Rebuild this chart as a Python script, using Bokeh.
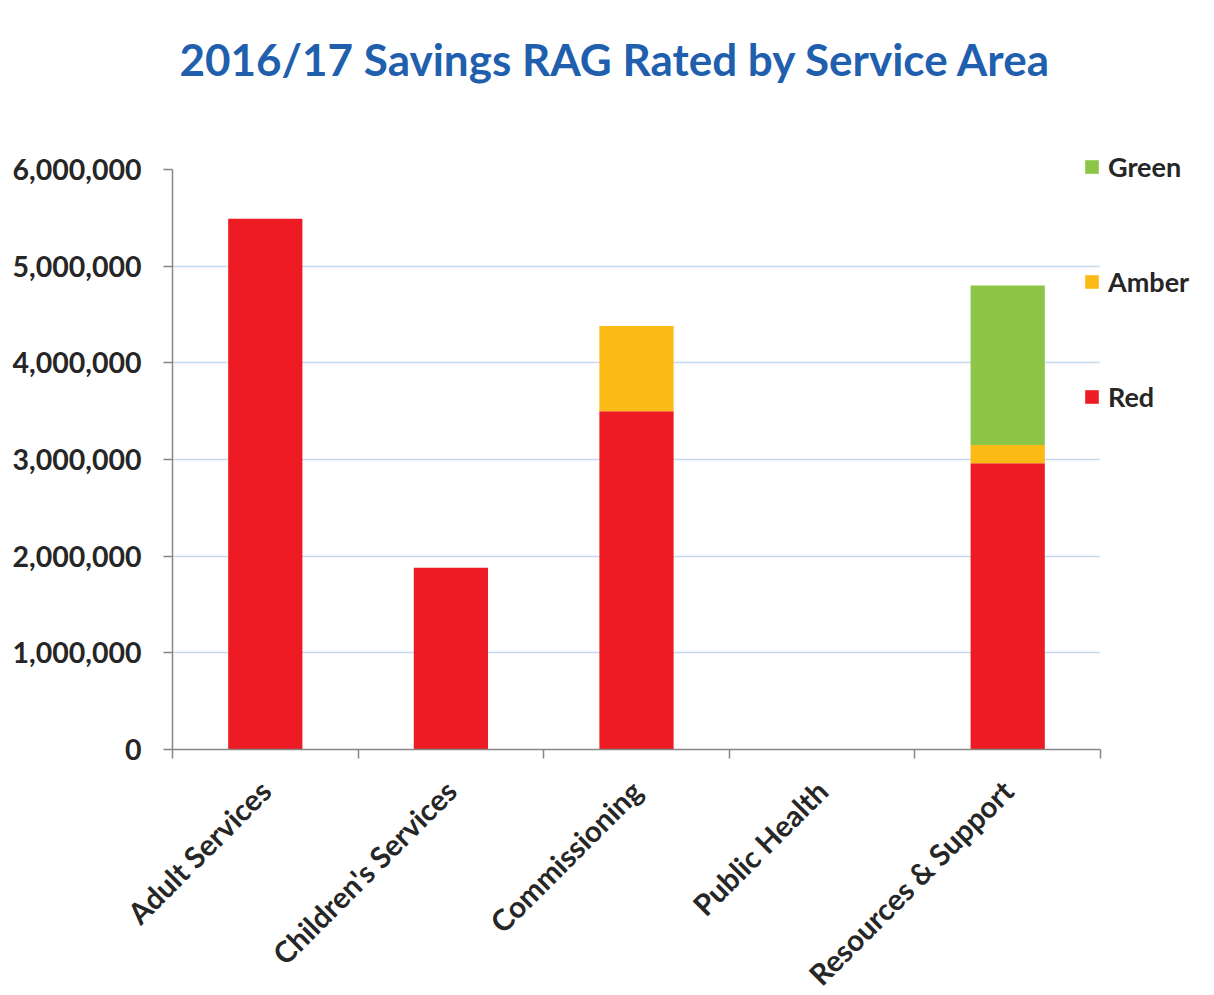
import math
from bokeh.plotting import figure
from bokeh.models import (ColumnDataSource, Range1d, FixedTicker, NumeralTickFormatter,
                          Legend, LegendItem, Title)
from bokeh.embed import file_html
from bokeh.resources import INLINE

categories = ["Adult Services", "Children's Services", "Commissioning",
              "Public Health", "Resources & Support"]
red = [5490000, 1880000, 3500000, 0, 2960000]
amber = [0, 0, 880000, 0, 190000]
green = [0, 0, 0, 0, 1650000]
series = ["Red", "Amber", "Green"]
colors = ["#ED1C24", "#FBBA16", "#8DC647"]
y_ticks = [0, 1000000, 2000000, 3000000, 4000000, 5000000, 6000000]
title_text = "2016/17 Savings RAG Rated by Service Area"

FONT = "Lato"
TEXT = "#262626"

x = [i + 0.5 for i in range(len(categories))]
source = ColumnDataSource(dict(x=x, Red=red, Amber=amber, Green=green))

p = figure(frame_width=928, frame_height=580, output_backend="svg", toolbar_location=None,
           title=None,
           x_range=Range1d(0, len(categories)), y_range=Range1d(0, y_ticks[-1]),
           min_border_left=172, min_border_right=106, min_border_top=169, min_border_bottom=246)
p.outline_line_color = None

# spacer between title and plot area
spacer = Title(text=" ", text_font_size="1px", standoff=52)
p.add_layout(spacer, "above")
main_title = Title(text=title_text, align="left", offset=7, standoff=60,
                   text_font=FONT, text_font_size="44px", text_font_style="bold",
                   text_color="#1F5FAE")
p.add_layout(main_title, "above")

rs = p.vbar_stack(series, x="x", width=0.4, fill_color=colors, line_color=None, source=source)

xa = p.xaxis[0]
xa.ticker = FixedTicker(ticks=x, minor_ticks=list(range(len(categories) + 1)))
xa.major_label_overrides = {xi: c for xi, c in zip(x, categories)}
xa.major_tick_in = 0
xa.major_tick_out = 0
xa.minor_tick_in = 0
xa.minor_tick_out = 9
xa.minor_tick_line_color = "#868686"
xa.minor_tick_line_width = 1.5
xa.axis_line_color = "#868686"
xa.axis_line_width = 1.5
xa.major_label_orientation = math.pi / 4
xa.major_label_standoff = 27
xa.major_label_text_font = FONT
xa.major_label_text_font_size = "29.5px"
xa.major_label_text_font_style = "bold"
xa.major_label_text_color = TEXT

ya = p.yaxis[0]
ya.ticker = FixedTicker(ticks=y_ticks)
ya.formatter = NumeralTickFormatter(format="0,0")
ya.major_tick_in = 0
ya.major_tick_out = 9
ya.major_tick_line_color = "#868686"
ya.major_tick_line_width = 1.5
ya.minor_tick_line_color = None
ya.axis_line_color = "#868686"
ya.axis_line_width = 1.5
ya.major_label_standoff = 22
ya.major_label_text_font = FONT
ya.major_label_text_font_size = "28.5px"
ya.major_label_text_font_style = "bold"
ya.major_label_text_color = TEXT

p.xgrid.visible = False
p.ygrid.grid_line_color = "#C5D9F1"
p.ygrid.grid_line_width = 1.5

legend = Legend(items=[LegendItem(label=s, renderers=[r]) for s, r in reversed(list(zip(series, rs)))],
                location=(-17, 336), orientation="vertical", spacing=82,
                glyph_width=17, glyph_height=17, label_standoff=8, padding=0, margin=0,
                border_line_color=None, background_fill_alpha=0,
                label_text_font=FONT, label_text_font_size="27px",
                label_text_font_style="bold", label_text_color=TEXT)
p.add_layout(legend, "right")

open("out.html", "w").write(file_html(p, INLINE))
